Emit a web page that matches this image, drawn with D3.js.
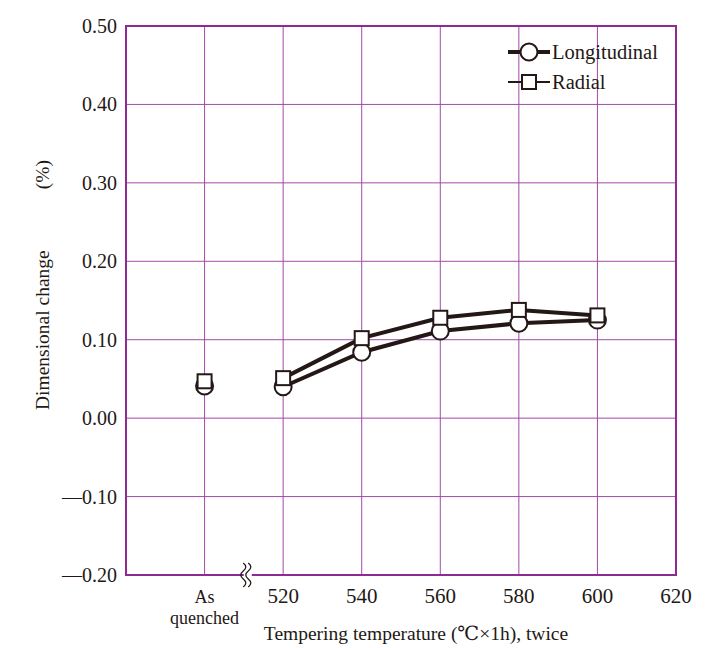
<!DOCTYPE html>
<html>
<head>
<meta charset="utf-8">
<script src="https://cdn.jsdelivr.net/npm/d3@7"></script>
<style>
  body { margin: 0; background: #fff; }
  svg text { font-family: "Liberation Serif", "DejaVu Serif", serif; fill: #231815; }
</style>
</head>
<body>
<div id="chart"></div>
<script>
// Dimensional change after tempering (twice), longitudinal vs radial
// x = 500 stands for "As quenched" (drawn before the axis break)

const xTicks = [500, 520, 540, 560, 580, 600, 620];
const xTickLabels = ["As|quenched", "520", "540", "560", "580", "600", "620"];
const yTicks = [0.5, 0.4, 0.3, 0.2, 0.1, 0.0, -0.1, -0.2];

const temps = [500, 520, 540, 560, 580, 600];
const longitudinal = [0.041, 0.040, 0.084, 0.111, 0.121, 0.125];
const radial = [0.047, 0.051, 0.102, 0.128, 0.138, 0.131];

const width = 722, height = 648;
const margin = { top: 26, right: 46, bottom: 73, left: 126 };
const innerWidth = width - margin.left - margin.right;
const innerHeight = height - margin.top - margin.bottom;

const ink = "#231815";
const gridColor = "#a24aa8";
const borderColor = "#8e2a94";

const svg = d3.select("#chart")
  .append("svg")
  .attr("width", width)
  .attr("height", height);

const g = svg.append("g")
  .attr("transform", `translate(${margin.left}, ${margin.top})`);

const x = d3.scaleLinear().domain([480, 620]).range([0, innerWidth]);
const y = d3.scaleLinear().domain([-0.2, 0.5]).range([innerHeight, 0]);

// Grid
g.selectAll(".vgrid")
  .data(xTicks.slice(0, -1))
  .join("line")
  .attr("x1", d => x(d)).attr("x2", d => x(d))
  .attr("y1", 0).attr("y2", innerHeight)
  .attr("stroke", gridColor)
  .attr("stroke-width", 1);

g.selectAll(".hgrid")
  .data(yTicks.slice(1, -1))
  .join("line")
  .attr("x1", 0).attr("x2", innerWidth)
  .attr("y1", d => y(d)).attr("y2", d => y(d))
  .attr("stroke", gridColor)
  .attr("stroke-width", 1);

// Frame
g.append("rect")
  .attr("width", innerWidth).attr("height", innerHeight)
  .attr("fill", "none")
  .attr("stroke", borderColor)
  .attr("stroke-width", 2);

// Y tick labels
g.selectAll(".ylab")
  .data(yTicks)
  .join("text")
  .attr("x", -9)
  .attr("y", d => y(d))
  .attr("dy", "0.35em")
  .attr("text-anchor", "end")
  .style("font-size", "20px")
  .text(d => (d < 0 ? "\u2014" : "") + Math.abs(d).toFixed(2));

// X tick labels
xTicks.forEach((t, i) => {
  const parts = xTickLabels[i].split("|");
  const txt = g.append("text")
    .attr("x", x(t))
    .attr("y", innerHeight + 28)
    .attr("text-anchor", "middle")
    .style("font-size", parts.length > 1 ? "18px" : "21px");
  parts.forEach((p, j) => {
    txt.append("tspan")
      .attr("x", x(t))
      .attr("dy", j === 0 ? 0 : "1.15em")
      .text(p);
  });
});

// Axis break mark on the bottom edge
const bx = x(511), by = innerHeight;
g.append("rect")
  .attr("x", bx - 4).attr("y", by - 3)
  .attr("width", 8).attr("height", 6)
  .attr("fill", "#fff");
[-2.5, 2.5].forEach(off => {
  g.append("path")
    .attr("d", `M${bx + off - 2},${by - 12} q5,4 0,8 q-5,4 0,8 q5,4 0,8`)
    .attr("fill", "none")
    .attr("stroke", ink)
    .attr("stroke-width", 1.3);
});

// Series lines (As quenched stands alone, not joined)
const line = d3.line()
  .x(d => x(d[0]))
  .y(d => y(d[1]));

const radialPts = temps.map((t, i) => [t, radial[i]]);
const longPts = temps.map((t, i) => [t, longitudinal[i]]);

g.append("path")
  .datum(radialPts.slice(1))
  .attr("fill", "none")
  .attr("stroke", ink)
  .attr("stroke-width", 4)
  .attr("d", line);

g.append("path")
  .datum(longPts.slice(1))
  .attr("fill", "none")
  .attr("stroke", ink)
  .attr("stroke-width", 4)
  .attr("d", line);

// Markers: circles first, squares on top
g.selectAll(".circ")
  .data(longPts)
  .join("circle")
  .attr("cx", d => x(d[0]))
  .attr("cy", d => y(d[1]))
  .attr("r", 8.5)
  .attr("fill", "#fff")
  .attr("stroke", ink)
  .attr("stroke-width", 2);

g.selectAll(".sq")
  .data(radialPts)
  .join("rect")
  .attr("x", d => x(d[0]) - 7)
  .attr("y", d => y(d[1]) - 7)
  .attr("width", 14).attr("height", 14)
  .attr("fill", "#fff")
  .attr("stroke", ink)
  .attr("stroke-width", 2);

// Legend
const legend = svg.append("g").attr("transform", "translate(508, 52)");
legend.append("line")
  .attr("x1", 0).attr("x2", 42).attr("y1", 0).attr("y2", 0)
  .attr("stroke", ink).attr("stroke-width", 4);
legend.append("circle")
  .attr("cx", 21).attr("cy", 0).attr("r", 8.5)
  .attr("fill", "#fff").attr("stroke", ink).attr("stroke-width", 2);
legend.append("text")
  .attr("x", 44).attr("y", 0).attr("dy", "0.35em")
  .style("font-size", "20.5px")
  .text("Longitudinal");

legend.append("line")
  .attr("x1", 0).attr("x2", 42).attr("y1", 30).attr("y2", 30)
  .attr("stroke", ink).attr("stroke-width", 2);
legend.append("rect")
  .attr("x", 14).attr("y", 23).attr("width", 14).attr("height", 14)
  .attr("fill", "#fff").attr("stroke", ink).attr("stroke-width", 2);
legend.append("text")
  .attr("x", 44).attr("y", 30).attr("dy", "0.35em")
  .style("font-size", "20.5px")
  .text("Radial");

// Axis titles
svg.append("text")
  .attr("x", 416)
  .attr("y", 640)
  .attr("text-anchor", "middle")
  .style("font-size", "19.5px")
  .text("Tempering temperature (\u2103\u00d71h), twice");

svg.append("text")
  .attr("transform", "translate(49, 410) rotate(-90)")
  .attr("text-anchor", "start")
  .style("font-size", "19.5px")
  .text("Dimensional change");

svg.append("text")
  .attr("transform", "translate(49, 160) rotate(-90)")
  .attr("text-anchor", "end")
  .style("font-size", "19.5px")
  .text("(%)");
</script>
</body>
</html>
